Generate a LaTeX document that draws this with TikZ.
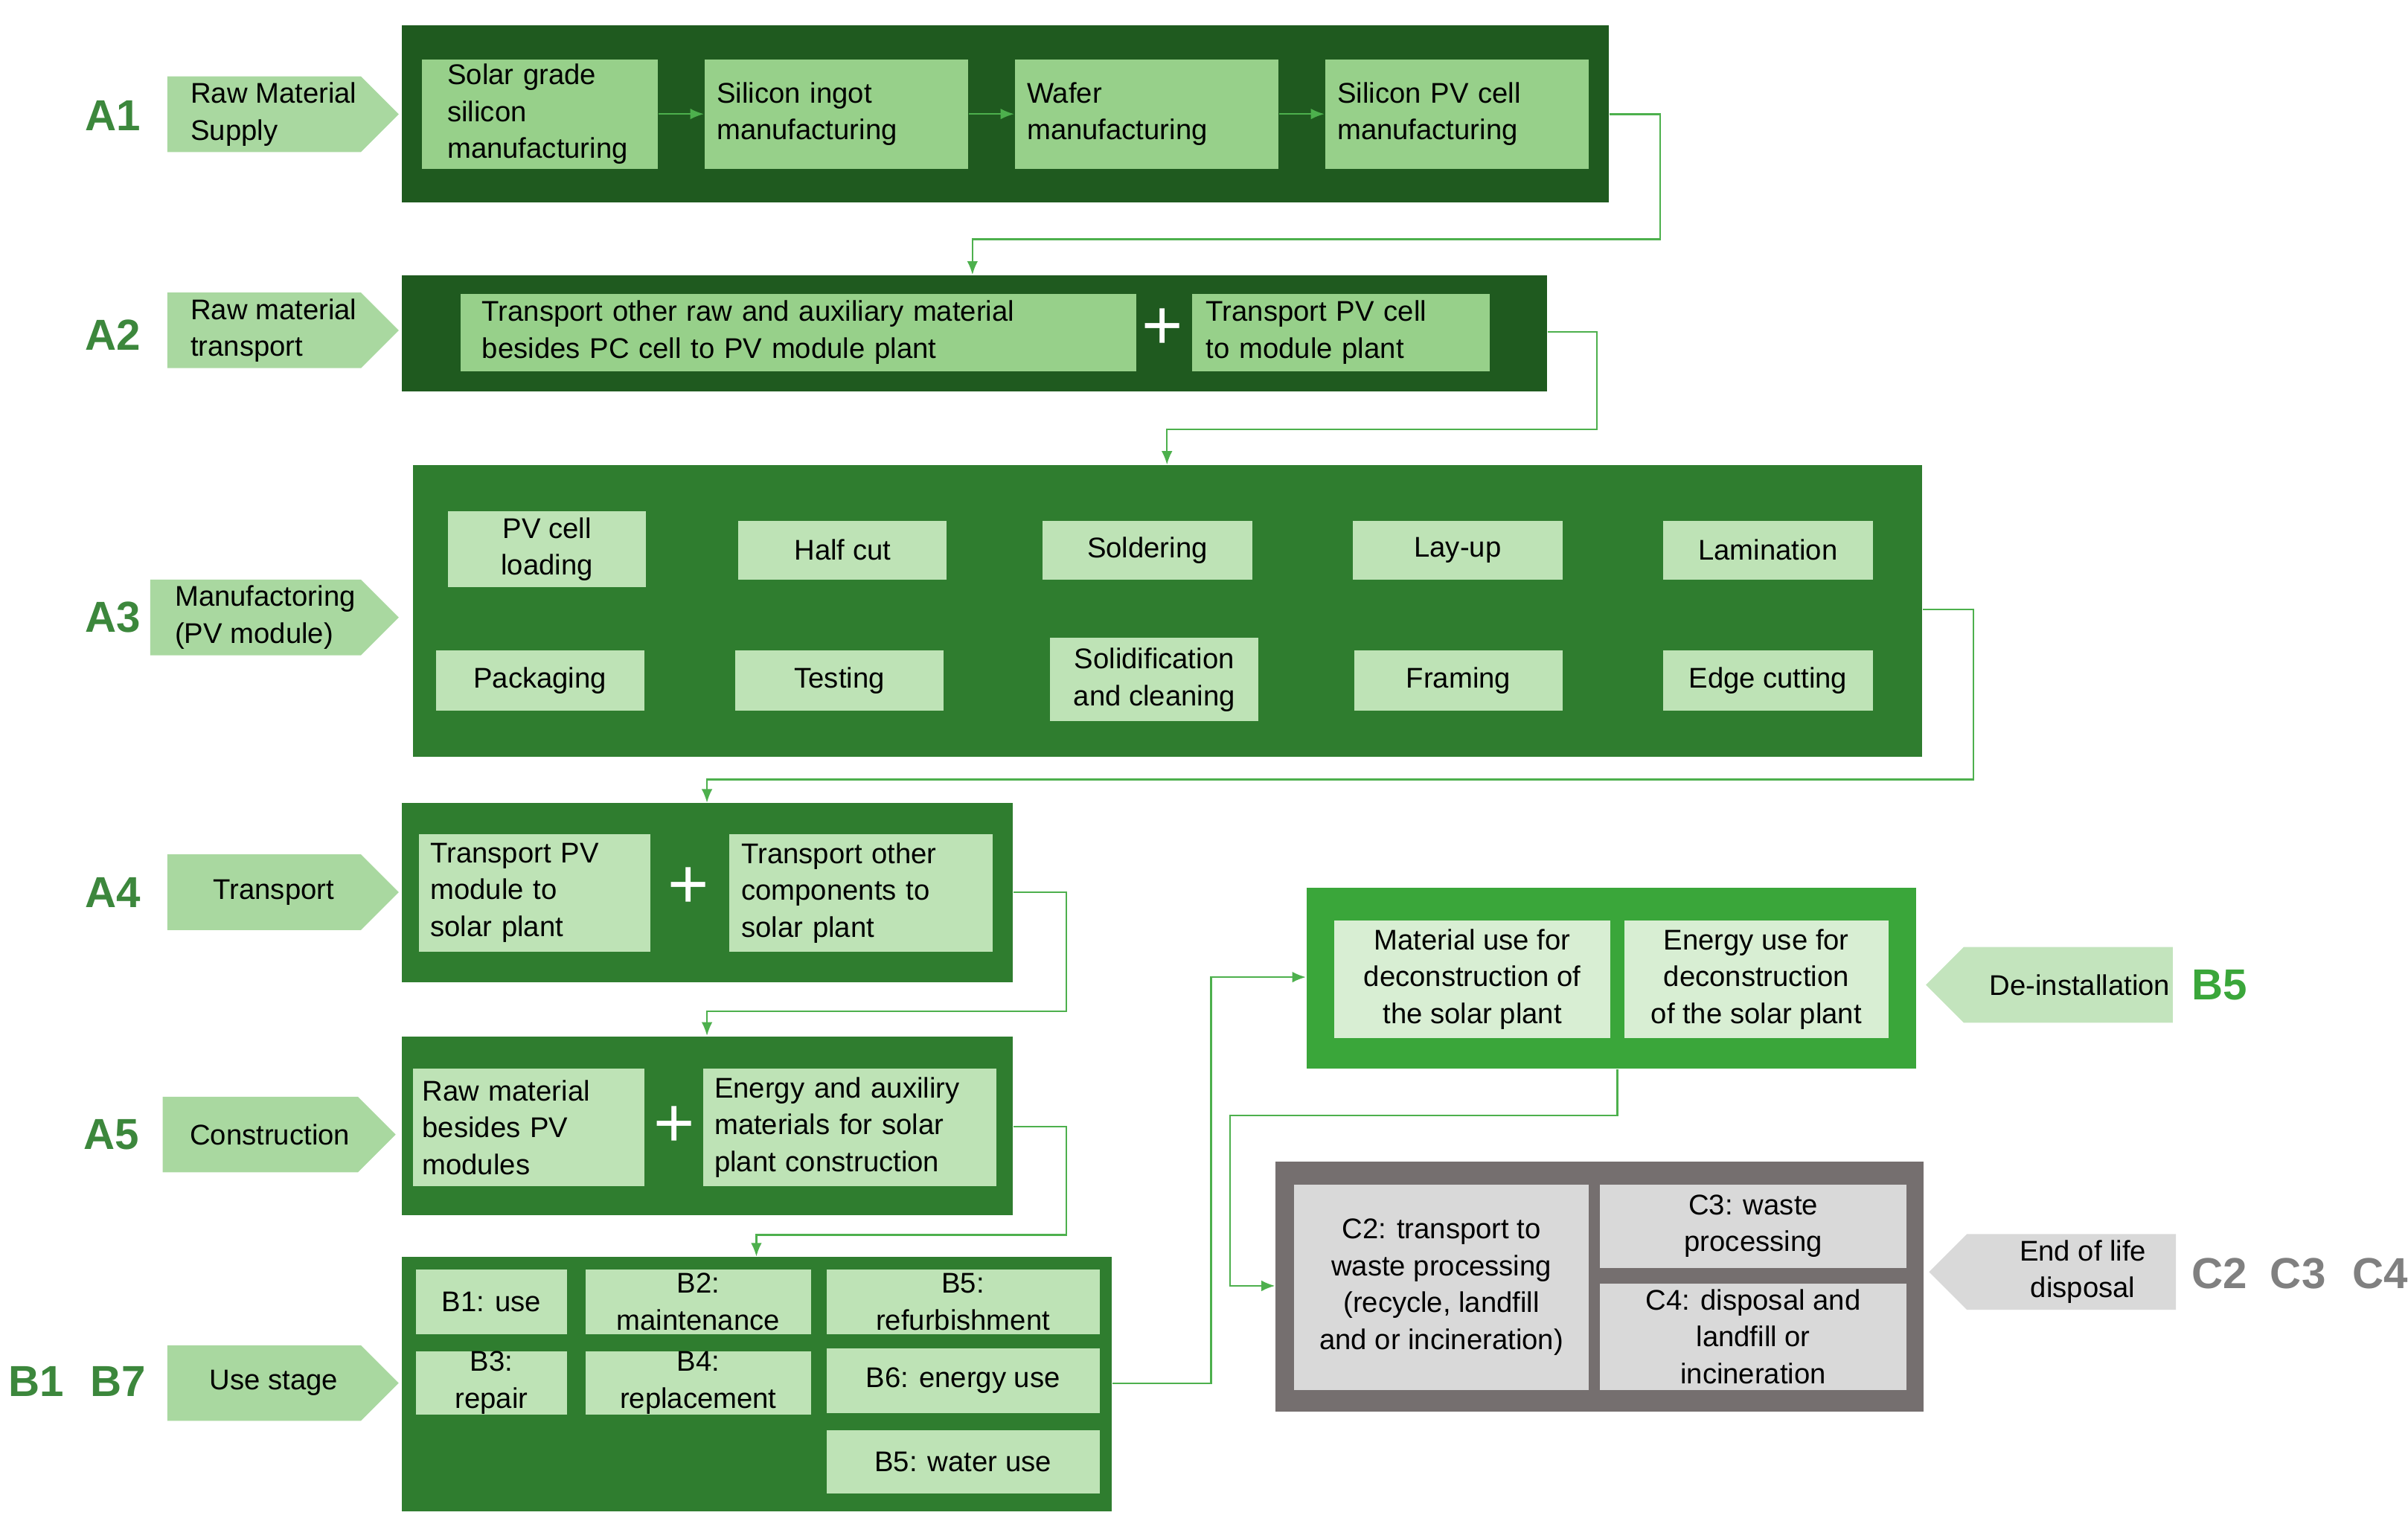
\documentclass[tikz,border=0pt]{standalone}
\usepackage{fontspec}
\setmainfont{Liberation Sans}
\usetikzlibrary{shapes.symbols, arrows.meta}
\definecolor{darkgr}{HTML}{1F5A1F}
\definecolor{midgr}{HTML}{2F7D2F}
\definecolor{brightgr}{HTML}{3AA63A}
\definecolor{boxgr}{HTML}{97D08A}
\definecolor{palegr}{HTML}{BEE3B6}
\definecolor{taggr}{HTML}{A9D8A0}
\definecolor{labgr}{HTML}{3C873C}
\definecolor{linkgr}{HTML}{4DB04D}
\definecolor{greybox}{HTML}{756F6F}
\definecolor{greyin}{HTML}{D9D9D9}
\definecolor{greytxt}{HTML}{808080}
\tikzstyle{stage} = [rectangle, inner sep=0pt, anchor=north west]
\tikzstyle{task} = [rectangle, inner sep=0pt, anchor=north west, font=\fontsize{10.5}{13.6}\selectfont]
\tikzstyle{tag} = [signal, signal to=east, fill=taggr, inner sep=0pt, anchor=west, minimum height=0.98cm, font=\fontsize{10.5}{13.6}\selectfont, align=left]
\tikzstyle{backtag} = [signal, signal to=west, inner sep=0pt, anchor=east, minimum height=0.98cm, font=\fontsize{10.5}{13.6}\selectfont, align=center]
\tikzstyle{phase} = [font=\fontsize{16}{18}\selectfont\bfseries, text=labgr]
\tikzstyle{plus} = [text=white, font=\fontsize{26}{26}\selectfont]
\tikzstyle{link} = [draw=linkgr, line width=0.6pt, -{Latex[length=5pt,width=4pt]}]

\begin{document}
\begin{tikzpicture}[x=0.02cm, y=-0.02cm]
\useasboundingbox (0,0) rectangle (1560,987);

% A1
\node (A1box) [stage, fill=darkgr, minimum width=15.64cm, minimum height=2.3cm] at (260,16) {};
\node (solar) [task, fill=boxgr, minimum width=3.06cm, minimum height=1.42cm, text width=2.8cm, align=left] at (273,38) {\hspace*{0.2cm}Solar grade\\\hspace*{0.2cm}silicon\\\hspace*{0.2cm}manufacturing};
\node (ingot) [task, fill=boxgr, minimum width=3.42cm, minimum height=1.42cm, align=left, text width=3.1cm] at (456,38) {Silicon ingot\\manufacturing};
\node (wafer) [task, fill=boxgr, minimum width=3.42cm, minimum height=1.42cm, align=left, text width=3.1cm] at (657,38) {Wafer\\manufacturing};
\node (cell) [task, fill=boxgr, minimum width=3.42cm, minimum height=1.42cm, align=left, text width=3.1cm] at (858,38) {Silicon PV cell\\manufacturing};
\node (A1tag) [tag, minimum width=3cm] at (108,74) {\hspace*{0.25cm}Raw Material\\\hspace*{0.25cm}Supply};
\node (A1lab) [phase] at (73,75) {A1};

% A2
\node (A2box) [stage, fill=darkgr, minimum width=14.84cm, minimum height=1.5cm] at (260,178) {};
\node (other) [task, fill=boxgr, minimum width=8.76cm, minimum height=1cm, align=left, text width=8.2cm] at (298,190) {Transport other raw and auxiliary  material\\besides PC cell to PV module plant};
\node (A2plus) [plus] at (753,213) {+};
\node (pvcell) [task, fill=boxgr, minimum width=3.86cm, minimum height=1cm, align=left, text width=3.5cm] at (772,190) {Transport PV cell\\to module plant};
\node (A2tag) [tag, minimum width=3cm] at (108,214) {\hspace*{0.25cm}Raw material\\\hspace*{0.25cm}transport};
\node (A2lab) [phase] at (73,217) {A2};

% A3
\node (A3box) [stage, fill=midgr, minimum width=19.56cm, minimum height=3.78cm] at (267,301) {};
\node (load) [task, fill=palegr, minimum width=2.56cm, minimum height=0.98cm, align=center] at (290,331) {PV cell\\loading};
\node (half) [task, fill=palegr, minimum width=2.7cm, minimum height=0.76cm] at (478,337) {Half cut};
\node (solder) [task, fill=palegr, minimum width=2.72cm, minimum height=0.76cm] at (675,337) {Soldering};
\node (layup) [task, fill=palegr, minimum width=2.72cm, minimum height=0.76cm] at (876,337) {Lay-up};
\node (lamin) [task, fill=palegr, minimum width=2.72cm, minimum height=0.76cm] at (1077,337) {Lamination};
\node (pack) [task, fill=palegr, minimum width=2.7cm, minimum height=0.78cm] at (282,421) {Packaging};
\node (test) [task, fill=palegr, minimum width=2.7cm, minimum height=0.78cm] at (476,421) {Testing};
\node (solid) [task, fill=palegr, minimum width=2.7cm, minimum height=1.08cm, align=center] at (680,413) {Solidification\\and cleaning};
\node (frame) [task, fill=palegr, minimum width=2.7cm, minimum height=0.78cm] at (877,421) {Framing};
\node (edge) [task, fill=palegr, minimum width=2.72cm, minimum height=0.78cm] at (1077,421) {Edge cutting};
\node (A3tag) [tag, minimum width=3.22cm] at (97,400) {\hspace*{0.25cm}Manufactoring\\\hspace*{0.25cm}(PV module)};
\node (A3lab) [phase] at (73,400) {A3};

% A4
\node (A4box) [stage, fill=midgr, minimum width=7.92cm, minimum height=2.32cm] at (260,520) {};
\node (pvmod) [task, fill=palegr, minimum width=3cm, minimum height=1.52cm, align=left, text width=2.7cm] at (271,540) {Transport PV\\module to\\solar plant};
\node (A4plus) [plus] at (446,575) {+};
\node (comp) [task, fill=palegr, minimum width=3.42cm, minimum height=1.52cm, align=left, text width=3.1cm] at (472,540) {Transport other\\components to\\solar plant};
\node (A4tag) [tag, minimum width=3cm] at (108,578) {\hspace*{0.25cm}Transport};
\node (A4lab) [phase] at (73,578) {A4};

% A5
\node (A5box) [stage, fill=midgr, minimum width=7.92cm, minimum height=2.32cm] at (260,671) {};
\node (rawmat) [task, fill=palegr, minimum width=3cm, minimum height=1.52cm, align=left, text width=2.75cm] at (267,692) {Raw material\\besides PV\\modules};
\node (A5plus) [plus] at (437,730) {+};
\node (energy) [task, fill=palegr, minimum width=3.8cm, minimum height=1.52cm, align=left, text width=3.5cm] at (455,692) {Energy and auxiliry\\materials for solar\\plant construction};
\node (A5tag) [tag, minimum width=3.02cm] at (105,735) {\hspace*{0.25cm}Construction};
\node (A5lab) [phase] at (72,735) {A5};

% B1-B7
\node (Bbox) [stage, fill=midgr, minimum width=9.2cm, minimum height=3.3cm] at (260,814) {};
\node (use) [task, fill=palegr, minimum width=1.96cm, minimum height=0.84cm] at (269,822) {B1: use};
\node (maint) [task, fill=palegr, minimum width=2.92cm, minimum height=0.84cm, align=center] at (379,822) {B2:\\maintenance};
\node (refurb) [task, fill=palegr, minimum width=3.54cm, minimum height=0.84cm, align=center] at (535,822) {B5:\\refurbishment};
\node (repair) [task, fill=palegr, minimum width=1.96cm, minimum height=0.82cm, align=center] at (269,875) {B3:\\repair};
\node (repl) [task, fill=palegr, minimum width=2.92cm, minimum height=0.82cm, align=center] at (379,875) {B4:\\replacement};
\node (euse) [task, fill=palegr, minimum width=3.54cm, minimum height=0.84cm] at (535,873) {B6: energy use};
\node (wuse) [task, fill=palegr, minimum width=3.54cm, minimum height=0.82cm] at (535,926) {B5: water use};
\node (Btag) [tag, minimum width=3cm] at (108,896) {\hspace*{0.25cm}Use stage};
\node (Blab) [phase] at (50,895) {B1\hspace{0.35cm}B7};

% B5 de-installation
\node (B5box) [stage, fill=brightgr, minimum width=7.9cm, minimum height=2.34cm] at (846,575) {};
\node (matdec) [task, fill=palegr!60!white, minimum width=3.58cm, minimum height=1.52cm, align=center] at (864,596) {Material use for\\deconstruction of\\the solar plant};
\node (endec) [task, fill=palegr!60!white, minimum width=3.42cm, minimum height=1.52cm, align=center] at (1052,596) {Energy use for\\deconstruction\\of the solar plant};
\node (B5tag) [backtag, fill=taggr!70!white, minimum width=3.2cm] at (1408,638) {\hspace*{0.3cm}De-installation};
\node (B5lab) [phase, text=brightgr] at (1438,638) {B5};

% C2-C4
\node (Cbox) [stage, fill=greybox, minimum width=8.4cm, minimum height=3.24cm] at (826,752) {};
\node (waste) [task, fill=greyin, minimum width=3.82cm, minimum height=2.66cm, align=center] at (838,767) {C2: transport to\\waste processing\\(recycle, landfill\\and or incineration)};
\node (proc) [task, fill=greyin, minimum width=3.98cm, minimum height=1.08cm, align=center] at (1036,767) {C3: waste\\processing};
\node (disp) [task, fill=greyin, minimum width=3.98cm, minimum height=1.38cm, align=center] at (1036,831) {C4: disposal and\\landfill  or\\incineration};
\node (Ctag) [backtag, fill=greyin, minimum width=3.2cm] at (1410,824) {\hspace*{0.3cm}End of life\\\hspace*{0.3cm}disposal};
\node (Clab) [phase, text=greytxt] at (1490,825) {C2\hspace{0.3cm}C3\hspace{0.35cm}C4};

\coordinate (a2in) at (630,178);
\coordinate (a3in) at (756,301);
\coordinate (a4in) at (458,520);
\coordinate (a5in) at (458,671);
\coordinate (bin) at (490,814);
\coordinate (b5in) at (846,633);
\coordinate (cin) at (826,833);

% Arrows
\draw [link] (solar.east) -- (ingot.west);
\draw [link] (ingot.east) -- (wafer.west);
\draw [link] (wafer.east) -- (cell.west);
\draw [link] ([yshift=-1.16cm]A1box.north east) -- ++(33,0) -- ++(0,81) -| (a2in);
\draw [link] ([yshift=-0.74cm]A2box.north east) -- ++(32,0) -- ++(0,63) -| (a3in);
\draw [link] ([yshift=-1.88cm]A3box.north east) -- ++(33,0) -- ++(0,110) -| (a4in);
\draw [link] ([yshift=-1.16cm]A4box.north east) -- ++(34,0) -- ++(0,77) -| (a5in);
\draw [link] ([yshift=-1.18cm]A5box.north east) -- ++(34,0) -- ++(0,70) -| (bin);
\draw [link] ([yshift=-1.64cm]Bbox.north east) -- ++(64,0) |- (b5in);
\draw [link] (B5box.south) ++(4,0) -- ++(0,30) -- ++(-251,0) |- (cin);

\end{tikzpicture}
\end{document}
